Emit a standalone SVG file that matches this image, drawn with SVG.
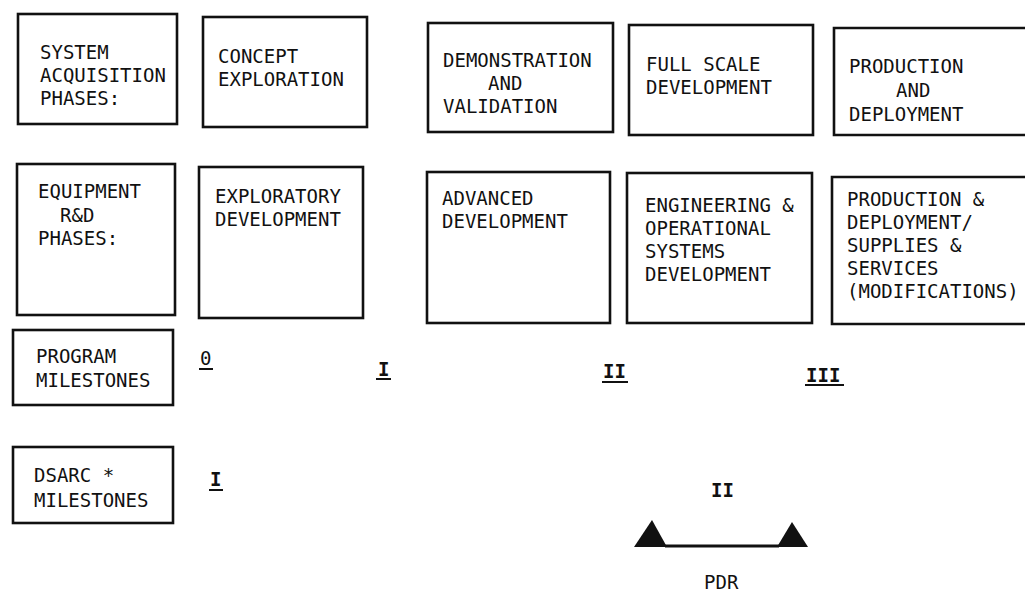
<svg xmlns="http://www.w3.org/2000/svg" width="1025" height="595" viewBox="0 0 1025 595">
<style>
  .box { fill: none; stroke: #111; stroke-width: 2.6; }
  .t { font-family: "DejaVu Sans Mono", "Liberation Mono", monospace; font-size: 19px; fill: #111; }
  .n { font-weight: bold; }
  .ul { stroke: #111; stroke-width: 2; }
  .tri { fill: #111; }
</style>
<rect width="1025" height="595" fill="#ffffff"/>

<g id="system-acquisition-phases">
  <rect class="box" x="18" y="14" width="159" height="110"/>
  <text class="t" x="40" y="59">SYSTEM</text>
  <text class="t" x="40" y="82">ACQUISITION</text>
  <text class="t" x="40" y="105">PHASES:</text>
</g>
<g id="concept-exploration">
  <rect class="box" x="203" y="17" width="164" height="110"/>
  <text class="t" x="218" y="63">CONCEPT</text>
  <text class="t" x="218" y="86">EXPLORATION</text>
</g>
<g id="demonstration-validation">
  <rect class="box" x="428" y="23" width="185" height="109"/>
  <text class="t" x="443" y="67">DEMONSTRATION</text>
  <text class="t" x="488" y="90">AND</text>
  <text class="t" x="443" y="113">VALIDATION</text>
</g>
<g id="full-scale-development">
  <rect class="box" x="629" y="25" width="184" height="110"/>
  <text class="t" x="646" y="71">FULL SCALE</text>
  <text class="t" x="646" y="94">DEVELOPMENT</text>
</g>
<g id="production-deployment">
  <path class="box" d="M1026,28 H834 V135 H1026"/>
  <text class="t" x="849" y="73">PRODUCTION</text>
  <text class="t" x="896" y="97">AND</text>
  <text class="t" x="849" y="121">DEPLOYMENT</text>
</g>

<g id="equipment-rd-phases">
  <rect class="box" x="17" y="164" width="158" height="151"/>
  <text class="t" x="38" y="198">EQUIPMENT</text>
  <text class="t" x="60" y="222">R&amp;D</text>
  <text class="t" x="38" y="245">PHASES:</text>
</g>
<g id="exploratory-development">
  <rect class="box" x="199" y="167" width="164" height="151"/>
  <text class="t" x="215" y="203">EXPLORATORY</text>
  <text class="t" x="215" y="226">DEVELOPMENT</text>
</g>
<g id="advanced-development">
  <rect class="box" x="427" y="172" width="183" height="151"/>
  <text class="t" x="442" y="205">ADVANCED</text>
  <text class="t" x="442" y="228">DEVELOPMENT</text>
</g>
<g id="engineering-operational">
  <rect class="box" x="627" y="173" width="185" height="150"/>
  <text class="t" x="645" y="212">ENGINEERING &amp;</text>
  <text class="t" x="645" y="235">OPERATIONAL</text>
  <text class="t" x="645" y="258">SYSTEMS</text>
  <text class="t" x="645" y="281">DEVELOPMENT</text>
</g>
<g id="production-deployment-supplies">
  <path class="box" d="M1026,177 H832 V324 H1026"/>
  <text class="t" x="847" y="206">PRODUCTION &amp;</text>
  <text class="t" x="847" y="229">DEPLOYMENT/</text>
  <text class="t" x="847" y="252">SUPPLIES &amp;</text>
  <text class="t" x="847" y="275">SERVICES</text>
  <text class="t" x="847" y="298">(MODIFICATIONS)</text>
</g>

<g id="program-milestones">
  <rect class="box" x="13" y="330" width="160" height="75"/>
  <text class="t" x="36" y="363">PROGRAM</text>
  <text class="t" x="36" y="387">MILESTONES</text>
</g>
<g id="program-milestone-0">
  <text class="t" x="200" y="365">0</text>
  <line class="ul" x1="199" y1="369" x2="213" y2="369"/>
</g>
<g id="program-milestone-I">
  <text class="t n" x="378" y="376">I</text>
  <line class="ul" x1="376" y1="379" x2="391" y2="379"/>
</g>
<g id="program-milestone-II">
  <text class="t n" x="603" y="378">II</text>
  <line class="ul" x1="602" y1="382" x2="628" y2="382"/>
</g>
<g id="program-milestone-III">
  <text class="t n" x="806" y="382">III</text>
  <line class="ul" x1="805" y1="385" x2="844" y2="385"/>
</g>

<g id="dsarc-milestones">
  <rect class="box" x="13" y="447" width="160" height="76"/>
  <text class="t" x="34" y="482">DSARC *</text>
  <text class="t" x="34" y="507">MILESTONES</text>
</g>
<g id="dsarc-milestone-I">
  <text class="t n" x="210" y="486">I</text>
  <line class="ul" x1="209" y1="490" x2="223" y2="490"/>
</g>
<g id="dsarc-milestone-II">
  <text class="t n" x="711" y="497">II</text>
  <polygon class="tri" points="652,520 667,547 634,547"/>
  <polygon class="tri" points="792,522 808,547 777,547"/>
  <text class="t" x="704" y="589">PDR</text>
</g>

<g id="connectors">
  <line x1="665" y1="546" x2="779" y2="546" stroke="#111" stroke-width="3"/>
</g>
</svg>
